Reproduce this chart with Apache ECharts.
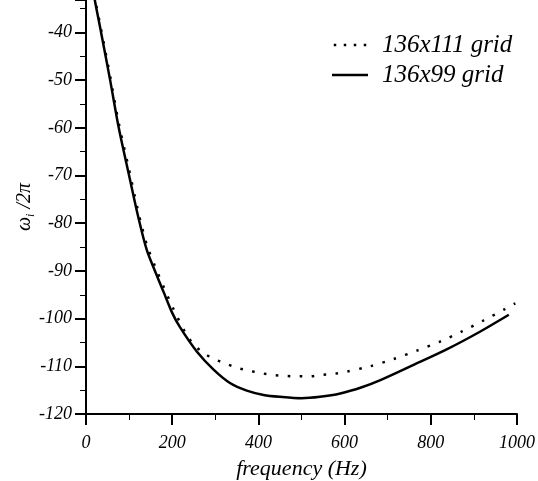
<!DOCTYPE html>
<html>
<head>
<meta charset="utf-8">
<script src="https://cdn.jsdelivr.net/npm/echarts@6/dist/echarts.min.js"></script>
<style>
html,body{margin:0;padding:0;background:#fff;}
#c{width:538px;height:481px;}
</style>
</head>
<body>
<div id="c"></div>
<script>
// Data
var freqFine = [10, 20, 35, 56, 76, 100, 121, 141, 160, 180, 203, 232, 249, 271, 296, 323, 350, 377, 404, 432, 460, 489, 518, 546, 574, 605, 659, 713, 768, 822, 872, 922, 972, 996];
var valFine = [-27, -32.5, -39.3, -49.2, -59, -68.8, -77.5, -84.5, -89, -93.3, -98, -103.2, -105.3, -107.1, -108.4, -109.4, -110.3, -110.9, -111.4, -111.8, -112.0, -112.1, -112.1, -111.8, -111.6, -111.1, -110.0, -108.5, -106.7, -104.8, -102.7, -100.4, -98.0, -96.8];
var freqCoarse = [10, 20, 35, 56, 76, 100, 121, 141, 160, 180, 200, 218, 257, 296, 334, 373, 412, 450, 500, 543, 590, 640, 683, 760, 838, 915, 981];
var valCoarse = [-27.5, -33, -40, -50, -60, -70, -78.6, -85.6, -90.0, -94.4, -98.8, -101.8, -106.9, -110.7, -113.5, -115.1, -116.0, -116.4, -116.7, -116.4, -115.7, -114.4, -112.9, -109.7, -106.4, -102.7, -99.2];
var seriesNames = ['136x111 grid', '136x99 grid'];
var xTicks = {min: 0, max: 1000, interval: 200};
var yTicks = {min: -120, max: -33.2, interval: 10};

function pairs(xs, ys) { return xs.map(function (x, i) { return [x, ys[i]]; }); }

var FONT = 'Liberation Serif';
var chart = echarts.init(document.getElementById('c'), null, {renderer: 'canvas'});
chart.setOption({
  backgroundColor: '#ffffff',
  animation: false,
  grid: {left: 86, right: 21, top: 0, bottom: 67, containLabel: false, outerBoundsMode: 'none'},
  legend: {
    orient: 'vertical',
    left: 332,
    top: 32,
    padding: 0,
    itemWidth: 36,
    itemHeight: 2.5,
    itemGap: 4,
    selectedMode: false,
    data: [
      {name: seriesNames[0], icon: 'path://M0,0h2.5v2.5h-2.5z M10,0h2.5v2.5h-2.5z M20,0h2.5v2.5h-2.5z M30,0h2.5v2.5h-2.5z'},
      {name: seriesNames[1], icon: 'rect'}
    ],
    itemStyle: {color: '#000'},
    textStyle: {fontFamily: FONT, fontStyle: 'italic', fontSize: 25, color: '#000', lineHeight: 26, padding: [0, 0, 0, 9]}
  },
  xAxis: {
    type: 'value',
    min: xTicks.min, max: xTicks.max, interval: xTicks.interval,
    name: 'frequency (Hz)',
    nameLocation: 'middle',
    nameGap: 44,
    nameTextStyle: {fontFamily: FONT, fontStyle: 'italic', fontSize: 22, color: '#000'},
    axisLine: {show: true, onZero: false, lineStyle: {color: '#000', width: 2}},
    axisTick: {show: true, length: 11, lineStyle: {color: '#000', width: 2}},
    minorTick: {show: true, splitNumber: 2, length: 6, lineStyle: {color: '#000', width: 1}},
    axisLabel: {fontFamily: FONT, fontStyle: 'italic', fontSize: 18, color: '#000', margin: 20,
      formatter: function (v) { return String(v); }},
    splitLine: {show: false},
    minorSplitLine: {show: false}
  },
  yAxis: {
    type: 'value',
    min: yTicks.min, max: yTicks.max, interval: yTicks.interval,
    name: '{w|ω}{s|i}{w| /2π}',
    nameLocation: 'middle',
    nameRotate: 90,
    nameGap: 49,
    nameMoveOverlap: false,
    nameTextStyle: {
      fontFamily: FONT, fontSize: 20, color: '#000',
      rich: {
        w: {fontFamily: FONT, fontStyle: 'italic', fontSize: 20, color: '#000', verticalAlign: 'middle', lineHeight: 24},
        s: {fontFamily: FONT, fontStyle: 'italic', fontSize: 12, color: '#000', verticalAlign: 'bottom', lineHeight: 24}
      }
    },
    axisLine: {show: true, onZero: false, lineStyle: {color: '#000', width: 2}},
    axisTick: {show: true, length: 11, lineStyle: {color: '#000', width: 2}},
    minorTick: {show: true, splitNumber: 2, length: 6, lineStyle: {color: '#000', width: 1}},
    axisLabel: {fontFamily: FONT, fontStyle: 'italic', fontSize: 18, color: '#000', margin: 14,
      showMaxLabel: false, formatter: function (v) { return String(v); }},
    splitLine: {show: false},
    minorSplitLine: {show: false}
  },
  series: [
    {
      name: seriesNames[0],
      type: 'line',
      data: pairs(freqFine, valFine),
      symbol: 'none',
      smooth: 0.3,
      clip: true,
      lineStyle: {color: '#000', width: 2.5, type: [2.5, 9.5], cap: 'butt'},
      itemStyle: {color: '#000'}
    },
    {
      name: seriesNames[1],
      type: 'line',
      data: pairs(freqCoarse, valCoarse),
      symbol: 'none',
      smooth: 0.3,
      clip: true,
      lineStyle: {color: '#000', width: 2.5, type: 'solid'},
      itemStyle: {color: '#000'}
    }
  ]
});
</script>
</body>
</html>
